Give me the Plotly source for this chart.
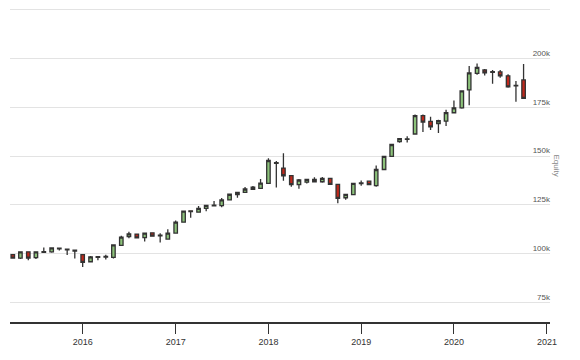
import plotly.graph_objects as go

months = [
    "2015-04", "2015-05", "2015-06", "2015-07", "2015-08", "2015-09", "2015-10", "2015-11", "2015-12",
    "2016-01", "2016-02", "2016-03", "2016-04", "2016-05", "2016-06", "2016-07", "2016-08", "2016-09",
    "2016-10", "2016-11", "2016-12",
    "2017-01", "2017-02", "2017-03", "2017-04", "2017-05", "2017-06", "2017-07", "2017-08", "2017-09",
    "2017-10", "2017-11", "2017-12",
    "2018-01", "2018-02", "2018-03", "2018-04", "2018-05", "2018-06", "2018-07", "2018-08", "2018-09",
    "2018-10", "2018-11", "2018-12",
    "2019-01", "2019-02", "2019-03", "2019-04", "2019-05", "2019-06", "2019-07", "2019-08", "2019-09",
    "2019-10", "2019-11", "2019-12",
    "2020-01", "2020-02", "2020-03", "2020-04", "2020-05", "2020-06", "2020-07", "2020-08", "2020-09",
    "2020-10",
]
open_k = [
    99.5, 97.8, 101.0, 98.0, 100.7, 101.0, 102.5, 102.3, 101.8,
    99.5, 95.9, 98.2, 98.3, 98.1, 104.3, 108.8, 110.1, 108.3, 110.7, 109.2, 107.5,
    110.6, 116.2, 122.0, 121.3, 123.3, 124.6, 124.7, 127.6, 130.3, 131.5, 133.0, 133.5,
    136.1, 146.3, 143.9, 140.1, 135.4, 136.7, 138.1, 136.9, 138.6, 135.6, 128.7, 130.3,
    136.0, 137.2, 134.9, 143.2, 149.9, 157.5, 158.7, 161.4, 170.8, 167.9, 166.7, 168.0,
    172.3, 174.8, 184.0, 192.5, 194.2, 193.4, 193.2, 191.2, 186.1, 189.1,
]
high_k = [
    99.8, 101.2, 101.2, 101.2, 103.2, 103.2, 103.2, 102.5, 102.2,
    99.8, 98.9, 98.6, 99.5, 104.8, 109.2, 111.3, 110.3, 110.8, 111.0, 110.5, 112.6,
    117.0, 122.0, 122.2, 124.5, 125.0, 127.0, 128.6, 130.7, 131.7, 134.2, 134.7, 138.3,
    149.0, 147.5, 151.5, 140.3, 138.3, 138.3, 139.2, 139.3, 138.8, 135.8, 130.6, 136.3,
    137.6, 137.4, 145.3, 150.1, 156.2, 159.2, 160.2, 171.4, 171.4, 170.3, 168.7, 173.8,
    178.6, 183.7, 196.3, 197.6, 194.7, 194.2, 194.2, 192.0, 188.6, 197.3,
]
low_k = [
    97.5, 97.3, 96.6, 97.3, 100.5, 100.5, 101.6, 99.4, 97.6,
    93.2, 95.6, 96.6, 97.1, 97.6, 104.0, 108.0, 107.9, 106.3, 108.8, 105.8, 107.3,
    110.4, 116.0, 118.5, 121.0, 121.8, 124.5, 123.8, 127.4, 128.7, 131.3, 132.8, 133.3,
    135.8, 134.0, 137.4, 134.3, 133.3, 136.0, 136.6, 136.4, 135.4, 125.9, 127.7, 130.1,
    134.9, 135.2, 134.4, 143.0, 149.7, 156.9, 157.0, 161.2, 162.4, 163.4, 161.9, 165.5,
    172.0, 174.3, 176.2, 191.8, 191.4, 187.1, 190.3, 185.1, 177.9, 179.7,
]
close_k = [
    97.8, 101.0, 97.8, 101.0, 101.1, 103.0, 102.9, 102.0, 101.4,
    95.6, 98.4, 98.5, 98.6, 104.5, 108.5, 110.2, 108.1, 110.6, 109.0, 109.5, 110.6,
    116.2, 121.8, 121.6, 123.3, 124.8, 124.9, 127.6, 130.5, 131.5, 133.2, 134.2, 136.2,
    147.8, 146.7, 140.0, 135.4, 137.8, 138.1, 136.9, 138.6, 135.6, 128.4, 130.4, 136.1,
    136.3, 135.4, 143.2, 149.9, 156.0, 159.0, 158.9, 170.8, 167.5, 165.0, 168.2, 172.4,
    174.8, 183.5, 192.7, 195.6, 192.7, 193.0, 191.2, 185.6, 186.3, 179.7,
]

y_gridvals = [75000, 100000, 125000, 150000, 175000, 200000, 225000]
y_tickvals = [75000, 100000, 125000, 150000, 175000, 200000]
y_ticktext = ["75k", "100k", "125k", "150k", "175k", "200k"]
x_tickvals = ["2016-01-01", "2017-01-01", "2018-01-01", "2019-01-01", "2020-01-01", "2021-01-01"]
x_ticktext = ["2016", "2017", "2018", "2019", "2020", "2021"]

dates = [m + "-01" for m in months]
scale = 1000
y_range = [65000, 226000]

fig = go.Figure()
fig.add_trace(go.Candlestick(
    x=dates,
    open=[v * scale for v in open_k],
    high=[v * scale for v in high_k],
    low=[v * scale for v in low_k],
    close=[v * scale for v in close_k],
    increasing=dict(line=dict(color="#333333", width=1.3), fillcolor="#8cc27a"),
    decreasing=dict(line=dict(color="#333333", width=1.3), fillcolor="#c0281b"),
    whiskerwidth=0,
    hoverinfo="skip",
    showlegend=False,
))
# empty helper trace so the overlaying label axis is drawn
fig.add_trace(go.Scatter(x=[], y=[], yaxis="y2", showlegend=False, hoverinfo="skip"))

fig.update_layout(
    width=572, height=352,
    margin=dict(l=2, r=30, t=0, b=38),
    paper_bgcolor="white", plot_bgcolor="white",
    font=dict(family="Liberation Sans, Arial, sans-serif", color="#333333"),
    showlegend=False,
    xaxis=dict(
        type="date",
        range=["2015-03-21", "2021-01-13"],
        rangeslider=dict(visible=False),
        showgrid=False,
        showline=True, linecolor="#333333", linewidth=1.5,
        ticks="outside", ticklen=10, tickcolor="#333333", tickwidth=1.3,
        tickvals=x_tickvals, ticktext=x_ticktext,
        tickfont=dict(size=9, color="#333333"),
        zeroline=False,
    ),
    yaxis=dict(
        side="right",
        range=y_range,
        tickvals=y_gridvals,
        showticklabels=False,
        showgrid=True, gridcolor="#e3e3e3", gridwidth=1,
        showline=False, zeroline=False, ticks="",
    ),
    yaxis2=dict(
        overlaying="y", side="left", anchor="free", position=1.0,
        range=y_range,
        tickvals=y_tickvals, ticktext=y_ticktext,
        ticklabelposition="outside top",
        showgrid=False, showline=False, zeroline=False, ticks="",
        tickfont=dict(size=8, color="#555555"),
    ),
    annotations=[dict(
        text="Equity", xref="paper", yref="paper", x=1.0, y=0.5,
        xshift=13, showarrow=False, textangle=90,
        font=dict(size=8, color="#888888"),
    )],
)

fig.write_html("out.html")
